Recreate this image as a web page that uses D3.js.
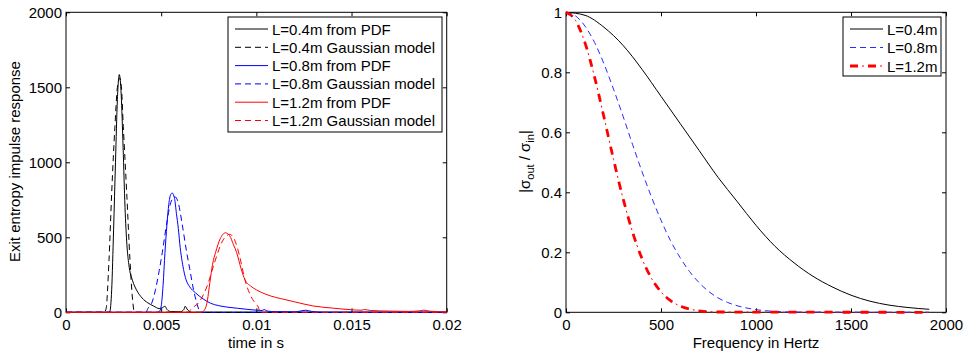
<!DOCTYPE html>
<html>
<head>
<meta charset="utf-8">
<script src="https://cdn.jsdelivr.net/npm/d3@7"></script>
<style>
  body { margin: 0; background: #fff; }
  svg text { font-family: "Liberation Sans", Arial, sans-serif; font-size: 15px; fill: #000; }
</style>
</head>
<body>
<div id="chart"></div>
<script>
// ---- data ----
// left panel: exit entropy impulse response vs time (s)
var timeTicks = [0, 0.005, 0.01, 0.015, 0.02];
var impulseTicks = [0, 500, 1000, 1500, 2000];

var pdf04 = [[0,0],[0.0022,0],[0.0023,5],[0.0024,150],[0.0025,550],[0.0026,1000],[0.0027,1420],[0.0028,1585],
  [0.0029,1450],[0.003,1100],[0.0031,700],[0.0032,450],[0.0033,320],[0.0035,210],[0.0037,150],[0.004,95],
  [0.0043,63],[0.0046,42],[0.0049,25],[0.00505,30],[0.0052,40],[0.0053,20],[0.0055,5],[0.006,3],[0.0062,20],
  [0.00625,40],[0.0064,15],[0.0066,0],[0.02,0]];
var gauss04 = [[0,0],[0.002,0],[0.0021,20],[0.00226,350],[0.0024,795],[0.00257,1239],[0.0027,1500],[0.00282,1562],
  [0.0029,1520],[0.00301,1239],[0.00319,795],[0.00336,350],[0.0035,80],[0.0036,0],[0.02,0]];
var pdf08 = [[0,0],[0.0048,0],[0.0049,5],[0.005,40],[0.0051,180],[0.0052,400],[0.0053,580],[0.0054,720],[0.0055,785],
  [0.00558,795],[0.0057,760],[0.0058,660],[0.0059,560],[0.006,430],[0.0061,340],[0.0062,270],[0.0063,220],
  [0.0065,170],[0.0068,130],[0.0072,90],[0.0076,60],[0.008,45],[0.0085,34],[0.009,27],[0.0095,20],[0.01,14],
  [0.0103,12],[0.0104,18],[0.0106,8],[0.011,4],[0.012,3],[0.0123,8],[0.0126,14],[0.0129,6],[0.0135,0],[0.02,0]];
var gauss08 = [[0,0],[0.0042,0],[0.0043,25],[0.0045,60],[0.0047,150],[0.0049,280],[0.00506,400],[0.0053,600],
  [0.0055,730],[0.00572,770],[0.0059,730],[0.0061,590],[0.00634,400],[0.0065,290],[0.0067,150],[0.0069,50],
  [0.00705,0],[0.02,0]];
var pdf12 = [[0,0],[0.0071,0],[0.0072,5],[0.0074,60],[0.00756,200],[0.0077,320],[0.00786,400],[0.0081,490],
  [0.00838,530],[0.0086,510],[0.0088,450],[0.00896,400],[0.0092,290],[0.0094,217],[0.0097,175],[0.01,150],
  [0.0105,120],[0.011,100],[0.0115,85],[0.012,70],[0.013,42],[0.014,28],[0.015,17],[0.0155,14],[0.0157,18],
  [0.016,12],[0.017,8],[0.018,6],[0.0186,10],[0.0188,14],[0.0191,8],[0.0195,4],[0.02,2]];
var gauss12 = [[0,0],[0.0064,0],[0.0066,25],[0.007,70],[0.0074,170],[0.0078,330],[0.0082,470],[0.0086,520],
  [0.0089,470],[0.0091,385],[0.0094,217],[0.0097,110],[0.00995,60],[0.0101,35],[0.0102,0],[0.02,0]];

// right panel: |sigma_out / sigma_in| vs frequency (Hz)
var freqTicks = [0, 500, 1000, 1500, 2000];
var gainTicks = [0, 0.2, 0.4, 0.6, 0.8, 1];

var gain04 = [[0,1],[100,0.99],[200,0.95],[300,0.89],[400,0.81],[500,0.72],[600,0.63],[700,0.54],[800,0.45],
  [900,0.37],[1000,0.29],[1100,0.22],[1200,0.165],[1300,0.12],[1400,0.085],[1500,0.057],[1600,0.037],
  [1700,0.024],[1800,0.016],[1912,0.01]];
var gain08 = [[0,1],[50,0.988],[100,0.954],[150,0.9],[200,0.828],[250,0.744],[300,0.654],[350,0.56],[400,0.469],
  [450,0.384],[500,0.307],[550,0.239],[600,0.183],[650,0.136],[700,0.099],[750,0.07],[800,0.048],[850,0.033],
  [900,0.022],[1000,0.009],[1100,0.003],[1200,0.001],[1912,0]];
var gain12 = [[0,1],[50,0.973],[100,0.898],[150,0.785],[200,0.65],[250,0.51],[300,0.38],[350,0.268],[400,0.179],
  [450,0.113],[500,0.068],[550,0.039],[600,0.021],[650,0.011],[700,0.005],[800,0.001],[1912,0]];

var leftNames = ["L=0.4m from PDF", "L=0.4m Gaussian model", "L=0.8m from PDF",
                 "L=0.8m Gaussian model", "L=1.2m from PDF", "L=1.2m Gaussian model"];
var rightNames = ["L=0.4m", "L=0.8m", "L=1.2m"];

// ---- drawing ----
var svg = d3.select("#chart").append("svg")
  .attr("width", 964)
  .attr("height", 351);

function panel(box, xDomain, yDomain, xTicks, yTicks){
  var x = d3.scaleLinear().domain(xDomain).range([box.x0, box.x1]);
  var y = d3.scaleLinear().domain(yDomain).range([box.y1, box.y0]);
  var fmt = function(d){ return String(d); };

  svg.append("g")
    .attr("transform", "translate(0," + box.y1 + ")")
    .call(d3.axisBottom(x).tickValues(xTicks).tickFormat(fmt).tickSizeInner(-4).tickSizeOuter(0).tickPadding(7));
  svg.append("g")
    .attr("transform", "translate(0," + box.y0 + ")")
    .call(d3.axisTop(x).tickValues(xTicks).tickFormat("").tickSizeInner(-4).tickSizeOuter(0));
  svg.append("g")
    .attr("transform", "translate(" + box.x0 + ",0)")
    .call(d3.axisLeft(y).tickValues(yTicks).tickFormat(fmt).tickSizeInner(-4).tickSizeOuter(0).tickPadding(4));
  svg.append("g")
    .attr("transform", "translate(" + box.x1 + ",0)")
    .call(d3.axisRight(y).tickValues(yTicks).tickFormat("").tickSizeInner(-4).tickSizeOuter(0));

  svg.selectAll(".domain").remove();
  svg.selectAll(".tick line").attr("stroke", "#000");
  svg.selectAll(".tick text").attr("font-size", null).attr("font-family", null);

  svg.append("rect")
    .attr("x", box.x0).attr("y", box.y0)
    .attr("width", box.x1 - box.x0).attr("height", box.y1 - box.y0)
    .attr("fill", "none").attr("stroke", "#000").attr("stroke-width", 1);

  return {x: x, y: y};
}

// a series may have an "over" stroke: thick dashes laid on a thin dash-dot line
function strokeLine(sel, s){
  sel.attr("fill", "none")
    .attr("stroke", s.color)
    .attr("stroke-width", s.width)
    .attr("stroke-dasharray", s.dash);
}

function legend(x0, y0, w, h, items){
  var g = svg.append("g");
  g.append("rect")
    .attr("x", x0).attr("y", y0).attr("width", w).attr("height", h)
    .attr("fill", "#fff").attr("stroke", "#000").attr("stroke-width", 1);
  items.forEach(function(it, i){
    var yy = y0 + 12 + i * it.step;
    strokeLine(g.append("line")
      .attr("x1", x0 + 7).attr("x2", x0 + 40)
      .attr("y1", yy).attr("y2", yy), it.s);
    if (it.s.over) {
      strokeLine(g.append("line")
        .attr("x1", x0 + 7).attr("x2", x0 + 40)
        .attr("y1", yy).attr("y2", yy), it.s.over);
    }
    g.append("text")
      .attr("x", x0 + 44).attr("y", yy + 5.5)
      .text(it.name);
  });
}

// left panel
var L = panel({x0: 66, x1: 446.7, y0: 12.3, y1: 312.3}, [0, 0.02], [0, 2000], timeTicks, impulseTicks);
var lineL = d3.line()
  .x(function(d){ return L.x(d[0]); })
  .y(function(d){ return L.y(d[1]); })
  .curve(d3.curveMonotoneX);

var leftSeries = [
  {data: pdf04, color: "#000", dash: null, width: 1},
  {data: gauss04, color: "#000", dash: "6,4", width: 1},
  {data: pdf08, color: "#0000ff", dash: null, width: 1},
  {data: gauss08, color: "#0000ff", dash: "6,4", width: 1},
  {data: pdf12, color: "#ff0000", dash: null, width: 1},
  {data: gauss12, color: "#ff0000", dash: "6,4", width: 1}
];
leftSeries.forEach(function(s){
  strokeLine(svg.append("path").attr("d", lineL(s.data)), s);
});

legend(228, 17, 214, 115, leftSeries.map(function(s, i){
  return {name: leftNames[i], s: s, step: 18.3};
}));

svg.append("text")
  .attr("x", 256).attr("y", 347.5)
  .attr("text-anchor", "middle")
  .text("time in s");
svg.append("text")
  .attr("transform", "translate(20,161.5) rotate(-90)")
  .attr("text-anchor", "middle")
  .text("Exit entropy impulse response");

// right panel
var R = panel({x0: 566, x1: 946, y0: 12.3, y1: 312.3}, [0, 2000], [0, 1], freqTicks, gainTicks);
var lineR = d3.line()
  .x(function(d){ return R.x(d[0]); })
  .y(function(d){ return R.y(d[1]); })
  .curve(d3.curveMonotoneX);

var rightSeries = [
  {data: gain04, color: "#000", dash: null, width: 1},
  {data: gain08, color: "#2a2aff", dash: "6,4", width: 1},
  {data: gain12, color: "#ff0000", dash: "8,4,2,4", width: 1,
    over: {color: "#ff0000", dash: "8,10", width: 2.8}}
];
rightSeries.forEach(function(s){
  strokeLine(svg.append("path").attr("d", lineR(s.data)), s);
  if (s.over) strokeLine(svg.append("path").attr("d", lineR(s.data)), s.over);
});

legend(843, 17, 98, 59, rightSeries.map(function(s, i){
  return {name: rightNames[i], s: s, step: 18.5};
}));

svg.append("text")
  .attr("x", 756).attr("y", 347.5)
  .attr("text-anchor", "middle")
  .text("Frequency in Hertz");

var ylab = svg.append("text")
  .attr("transform", "translate(530,161.5) rotate(-90)")
  .attr("text-anchor", "middle");
ylab.append("tspan").text("|\u03c3");
ylab.append("tspan").attr("dy", 4).attr("font-size", "11px").text("out");
ylab.append("tspan").attr("dy", -4).text(" / \u03c3");
ylab.append("tspan").attr("dy", 4).attr("font-size", "11px").text("in");
ylab.append("tspan").attr("dy", -4).text("|");
</script>
</body>
</html>
